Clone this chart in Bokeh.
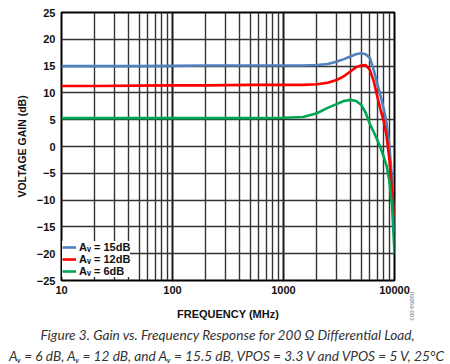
import math
from bokeh.plotting import figure
from bokeh.models import FixedTicker, Legend, LegendItem, Title, Range1d
from bokeh.embed import file_html
from bokeh.resources import INLINE

# ---- data ----
freq_mhz = [10, 20, 50, 100, 200, 500, 1000, 1500, 2000, 2500, 3000, 3500, 4000,
            4500, 5000, 5500, 6000, 6500, 7000, 7500, 8000, 8500, 9000, 9500, 10000]
gain_15db = [15.0, 15.0, 15.0, 15.05, 15.1, 15.1, 15.1, 15.1, 15.2, 15.4, 15.8, 16.3, 16.8,
             17.2, 17.4, 17.2, 16.5, 14.3, 11.7, 9.4, 7.0, 4.3, 0.0, -6.0, -16.0]
gain_12db = [11.3, 11.3, 11.35, 11.4, 11.4, 11.5, 11.5, 11.5, 11.6, 11.9, 12.4, 13.1, 14.0,
             14.8, 15.1, 15.2, 14.3, 12.2, 9.3, 6.8, 4.7, 1.8, -2.5, -8.0, -13.0]
gain_6db = [5.3, 5.3, 5.3, 5.3, 5.3, 5.3, 5.35, 5.5, 6.2, 7.2, 7.9, 8.5, 8.7,
            8.5, 7.8, 6.3, 4.2, 2.7, 1.2, -0.3, -1.9, -3.7, -6.5, -11.0, -20.0]

series_labels = ["A\u1d65 = 15dB", "A\u1d65 = 12dB", "A\u1d65 = 6dB"]
series_colors = ["#4f81bd", "#ff0000", "#00a651"]

x_major_ticks = [10, 100, 1000, 10000]
x_minor_ticks = [m * d for d in (10, 100, 1000) for m in range(2, 10)]
y_ticks = list(range(-25, 30, 5))
y_tick_labels = {v: (("\u2212" + str(-v)) if v < 0 else str(v)) for v in y_ticks}
x_tick_labels = {v: str(v) for v in x_major_ticks}

caption_1 = "Figure 3. Gain vs. Frequency Response for 200 \u03a9 Differential Load,"
caption_2 = ("A\u1d65 = 6 dB, A\u1d65 = 12 dB, and A\u1d65 = 15.5 dB, VPOS = 3.3 V and "
             "VPOS = 5 V, 25\u00b0C")
fig_code = "09959-003"

FONT = "Liberation Sans"

p = figure(width=450, height=364, x_axis_type="log",
           x_range=Range1d(10, 10000), y_range=Range1d(-25, 25),
           output_backend="svg", toolbar_location=None,
           min_border_left=61, min_border_right=56, min_border_top=12,
           min_border_bottom=0)

p.outline_line_color = "black"
p.outline_line_width = 2
p.background_fill_color = "white"

# axes
p.xaxis.ticker = FixedTicker(ticks=x_major_ticks, minor_ticks=x_minor_ticks)
p.yaxis.ticker = FixedTicker(ticks=y_ticks)
p.xaxis.major_label_overrides = x_tick_labels
p.yaxis.major_label_overrides = y_tick_labels
for ax in (p.xaxis, p.yaxis):
    ax.axis_line_color = None
    ax.major_tick_line_color = None
    ax.minor_tick_line_color = None
    ax.major_tick_out = 0
    ax.major_tick_in = 0
    ax.minor_tick_out = 0
    ax.minor_tick_in = 0
    ax.major_label_text_font = FONT
    ax.major_label_text_font_style = "bold"
    ax.major_label_text_font_size = "11px"
    ax.major_label_text_color = "#111111"
    ax.axis_label_text_font = FONT
    ax.axis_label_text_font_style = "bold"
    ax.axis_label_text_color = "#111111"
p.xaxis.axis_label = "FREQUENCY (MHz)"
p.yaxis.axis_label = "VOLTAGE GAIN (dB)"
p.xaxis.axis_label_text_font_size = "11px"
p.yaxis.axis_label_text_font_size = "10.5px"
p.xaxis.major_label_standoff = 5
p.yaxis.major_label_standoff = 6
p.xaxis.axis_label_standoff = 11
p.yaxis.axis_label_standoff = 6

# grid
p.xgrid.grid_line_color = "#1a1a1a"
p.xgrid.grid_line_width = 2
p.xgrid.minor_grid_line_color = "#333333"
p.xgrid.minor_grid_line_width = 1.4
p.ygrid.grid_line_color = "#333333"
p.ygrid.grid_line_width = 1.5

renderers = []
for vals, col in zip([gain_15db, gain_12db, gain_6db], series_colors):
    r = p.line(freq_mhz, vals, line_color=col, line_width=2.6)
    renderers.append(r)

legend = Legend(items=[LegendItem(label=lab, renderers=[r])
                       for lab, r in zip(series_labels, renderers)],
                location=(1, 3))
legend.label_text_font = FONT
legend.label_text_font_style = "bold"
legend.label_text_font_size = "11px"
legend.label_text_color = "#111111"
legend.glyph_width = 14
legend.glyph_height = 10
legend.label_height = 10
legend.spacing = 0
legend.padding = 2
legend.margin = 0
legend.label_standoff = 3
legend.border_line_color = None
legend.background_fill_color = "white"
legend.background_fill_alpha = 1
p.add_layout(legend, "center")

t1 = Title(text=caption_1, align="center", text_font="Lato", text_font_style="italic",
           text_font_size="13.7px", text_color="#333333", standoff=2)
t2 = Title(text=caption_2, align="center", text_font="Lato", text_font_style="italic",
           text_font_size="13.7px", text_color="#333333", standoff=2)
p.add_layout(t1, "below")
p.add_layout(t2, "below")

code = Title(text=fig_code, align="right", text_font=FONT, text_font_size="6px",
             text_font_style="normal", text_color="#777777", standoff=31, offset=-40)
p.add_layout(code, "right")

open("out.html", "w").write(file_html(p, INLINE))
